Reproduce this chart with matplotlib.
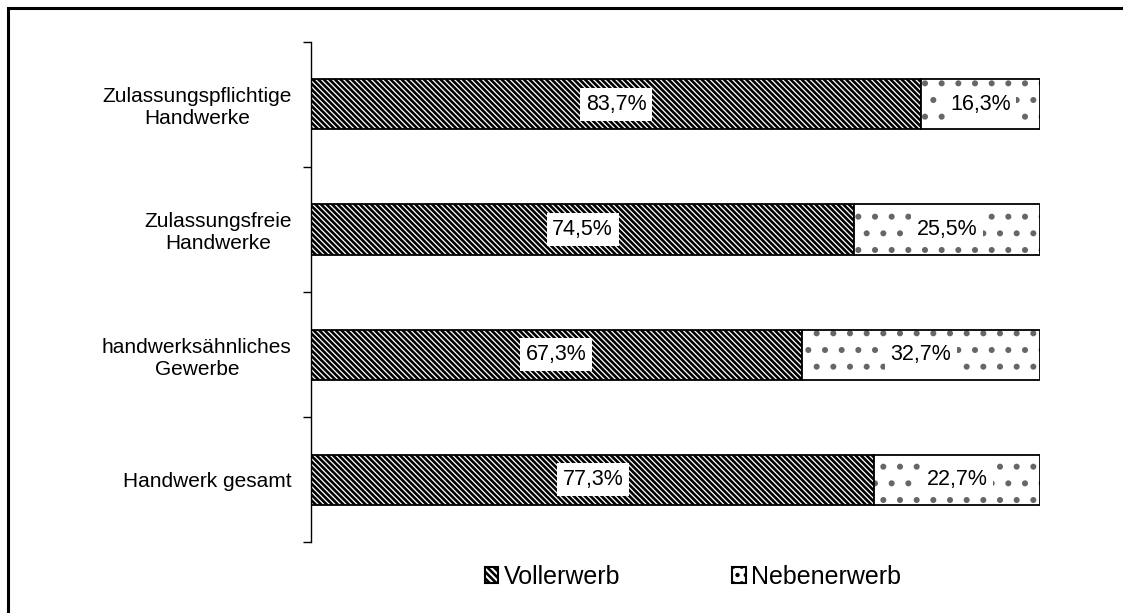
import matplotlib.pyplot as plt
from matplotlib.patches import Rectangle, Patch

plt.rcParams['font.family'] = ['Liberation Sans', 'DejaVu Sans']
plt.rcParams['hatch.linewidth'] = 1.9

# data
categories = ['Zulassungspflichtige\nHandwerke', 'Zulassungsfreie\nHandwerke',
              'handwerksähnliches\nGewerbe', 'Handwerk gesamt']
voll = [83.7, 74.5, 67.3, 77.3]
neben = [16.3, 25.5, 32.7, 22.7]
seriesNames = ['Vollerwerb', 'Nebenerwerb']

fig = plt.figure(figsize=(11.23, 6.13), dpi=100)
ax = fig.add_axes([0.277, 0.1158, 0.649, 0.8157])

ypos = list(range(len(categories)))
h = 0.4
hVoll = '\\' * 6
hNeben = '.'

# Vollerwerb, dense diagonal hatch
ax.barh(ypos, voll, height=h, color='white', edgecolor='black', hatch=hVoll, linewidth=0)
ax.barh(ypos, voll, height=h, color='none', edgecolor='black', linewidth=1.3)

# Nebenerwerb, sparse small dots
ax.barh(ypos, neben, left=voll, height=h, color='white', edgecolor='#666666', hatch=hNeben, linewidth=0)
ax.barh(ypos, neben, left=voll, height=h, color='none', edgecolor='black', linewidth=1.3)

# value labels
for i in ypos:
    ax.text(voll[i] / 2, i, ('%.1f%%' % voll[i]).replace('.', ','), ha='center', va='center',
            fontsize=15.5, bbox=dict(facecolor='white', edgecolor='none', pad=4))
    ax.text(voll[i] + neben[i] / 2, i, ('%.1f%%' % neben[i]).replace('.', ','), ha='center', va='center',
            fontsize=15.5, bbox=dict(facecolor='white', edgecolor='none', pad=4))

ax.set_xlim(0, 100)
ax.set_ylim(len(categories) - 0.5, -0.5)
ax.set_xticks([])
ax.set_yticks(ypos)
ax.set_yticklabels(categories, fontsize=15, multialignment='center')
ax.tick_params(axis='y', which='major', length=0, pad=14)
ax.set_yticks([i - 0.5 for i in range(len(categories) + 1)], minor=True)
ax.tick_params(axis='y', which='minor', length=6, width=1, direction='out')

for s in ['top', 'right', 'bottom']:
    ax.spines[s].set_visible(False)
ax.spines['left'].set_linewidth(1)

# legend
handles = [Patch(facecolor='white', edgecolor='black', hatch='\\\\\\\\\\', linewidth=1.5, label=seriesNames[0]),
           Patch(facecolor='white', edgecolor='black', hatch='..', linewidth=1.5, label=seriesNames[1])]
fig.legend(handles=handles, loc='center', bbox_to_anchor=(0.617, 0.059), ncol=2, frameon=False,
           fontsize=18, handlelength=0.55, handleheight=0.55, handletextpad=0.2, columnspacing=4.5)

# outer frame
fig.patches.append(Rectangle((0.0075, -0.05), 1.1, 1.05 - 0.013, transform=fig.transFigure,
                             fill=False, edgecolor='black', linewidth=2.2, figure=fig))

fig.savefig('out.png')
